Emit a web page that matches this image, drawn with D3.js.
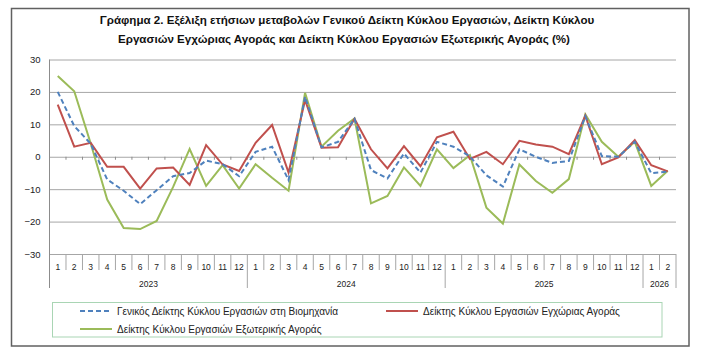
<!DOCTYPE html>
<html>
<head>
<meta charset="utf-8">
<script src="https://cdn.jsdelivr.net/npm/d3@7"></script>
<style>
  body { margin: 0; background: #fff; }
  text { font-family: "Liberation Sans", "DejaVu Sans", sans-serif; }
</style>
</head>
<body>
<div id="chart"></div>
<script>
// data (annual % change)
var months = ["1","2","3","4","5","6","7","8","9","10","11","12",
              "1","2","3","4","5","6","7","8","9","10","11","12",
              "1","2","3","4","5","6","7","8","9","10","11","12",
              "1","2"];
var years = ["2023", "2024", "2025", "2026"];
var yearCounts = [12, 12, 12, 2];
var yTicks = [-30, -20, -10, 0, 10, 20, 30];

var general = [20, 9.5, 4, -7, -10.5, -14.6, -10.3, -6, -5, -1.2, -2.3, -6,
               1.5, 3.1, -7.2, 18.5, 2.9, 4.6, 11.7, -4.1, -6.7, 1, -4.9, 4.6,
               3.1, 0.1, -5.7, -9.2, 2.3, 0, -1.9, -1.3, 12.5, 0.2, 0, 4.6,
               -5.1, -4.6];
var domestic = [16.1, 3.1, 4.3, -3.1, -3.1, -9.8, -3.6, -3.3, -8.7, 3.6, -2.4, -4.4,
                4.3, 9.8, -4.9, 17.5, 2.8, 2.9, 11.7, 2.3, -3.6, 3.3, -2.9, 6.0,
                7.7, -0.7, 1.5, -2.3, 4.9, 3.8, 3.1, 0.8, 12.7, -2.3, -0.2, 5.1,
                -2.6, -4.5];
var external = [24.9, 20.2, 4.1, -13.2, -22, -22.3, -19.8, -9.3, 2.4, -9, -2.6, -9.8,
                -2.3, -6.5, -10.5, 19.7, 3.1, 8.0, 11.8, -14.4, -12.1, -3.3, -9, 2.3,
                -3.5, 0.5, -15.7, -20.6, -2.4, -7.5, -11.1, -6.9, 13.1, 4.6, 0, 4.6,
                -9, -4.3];

var seriesNames = ["Γενικός Δείκτης Κύκλου Εργασιών στη Βιομηχανία",
                   "Δείκτης Κύκλου Εργασιών Εγχώριας Αγοράς",
                   "Δείκτης Κύκλου Εργασιών Εξωτερικής Αγοράς"];

var W = 715, H = 360;
// "top" is taken by window.top, so use other names
var plotL = 49.5, plotR = 676, plotT = 59.5, plotB = 254;

var svg = d3.select("#chart").append("svg")
  .attr("width", W)
  .attr("height", H);

// outer frame
svg.append("rect")
  .attr("x", 11.5).attr("y", 8.5)
  .attr("width", 677.5).attr("height", 337.5)
  .attr("fill", "none")
  .attr("stroke", "#606060")
  .attr("stroke-width", 1.5);

// title
var title = svg.append("text")
  .attr("text-anchor", "middle")
  .attr("font-weight", "bold")
  .attr("font-size", 11.6)
  .attr("fill", "#111");
title.append("tspan").attr("x", 347).attr("y", 24)
  .text("Γράφημα 2. Εξέλιξη ετήσιων μεταβολών Γενικού Δείκτη Κύκλου Εργασιών,  Δείκτη Κύκλου");
title.append("tspan").attr("x", 344).attr("y", 43)
  .text("Εργασιών Εγχώριας Αγοράς και Δείκτη Κύκλου Εργασιών Εξωτερικής Αγοράς (%)");

var idx = d3.range(months.length);
var x = d3.scaleBand().domain(idx).range([plotL, plotR]).padding(0);
var y = d3.scaleLinear().domain([-30, 30]).range([plotB, plotT]);

// gridlines + y labels
var yAxis = svg.append("g")
  .attr("transform", "translate(" + plotL + ",0)")
  .call(d3.axisLeft(y).tickValues(yTicks).tickSize(-(plotR - plotL)).tickPadding(9));
yAxis.select(".domain").remove();
yAxis.selectAll(".tick line").attr("stroke", "#a6a6a6");
yAxis.selectAll(".tick text")
  .attr("font-size", 9.5)
  .attr("fill", "#222")
  .style("font-family", "Liberation Sans, sans-serif");

// vertical axis line (runs down through the category table)
svg.append("line")
  .attr("x1", plotL).attr("x2", plotL)
  .attr("y1", plotT).attr("y2", 288)
  .attr("stroke", "#8c8c8c");

// zero line tick marks at month boundaries
var bounds = d3.range(months.length + 1).map(function(i) { return plotL + i * x.bandwidth(); });
svg.append("g").selectAll("line")
  .data(bounds.slice(1, -1))
  .enter().append("line")
  .attr("x1", function(d) { return d; }).attr("x2", function(d) { return d; })
  .attr("y1", y(0)).attr("y2", y(0) + 3)
  .attr("stroke", "#8c8c8c");

// category table below the plot
var yearStarts = [0];
yearCounts.forEach(function(c, i) { yearStarts.push(yearStarts[i] + c); });

svg.append("g").selectAll("line")
  .data(bounds.slice(1))
  .enter().append("line")
  .attr("x1", function(d) { return d; }).attr("x2", function(d) { return d; })
  .attr("y1", plotB)
  .attr("y2", function(d, i) { return yearStarts.indexOf(i + 1) >= 0 ? 288 : 270; })
  .attr("stroke", "#a6a6a6");

svg.append("g").selectAll("text")
  .data(months)
  .enter().append("text")
  .attr("x", function(d, i) { return x(i) + x.bandwidth() / 2; })
  .attr("y", 270)
  .attr("text-anchor", "middle")
  .attr("font-size", 8.5)
  .attr("fill", "#222")
  .text(function(d) { return d; });

svg.append("g").selectAll("text")
  .data(years)
  .enter().append("text")
  .attr("x", function(d, i) { return plotL + (yearStarts[i] + yearCounts[i] / 2) * x.bandwidth(); })
  .attr("y", 287)
  .attr("text-anchor", "middle")
  .attr("font-size", 8.5)
  .attr("fill", "#222")
  .text(function(d) { return d; });

// lines
var line = d3.line()
  .x(function(d, i) { return x(i) + x.bandwidth() / 2; })
  .y(function(d) { return y(d); });

var series = [
  { values: general, color: "#4f81bd", dash: "5,3" },
  { values: domestic, color: "#c0504d", dash: null },
  { values: external, color: "#9bbb59", dash: null }
];

svg.append("path").datum(external)
  .attr("d", line).attr("fill", "none")
  .attr("stroke", series[2].color).attr("stroke-width", 2);
svg.append("path").datum(domestic)
  .attr("d", line).attr("fill", "none")
  .attr("stroke", series[1].color).attr("stroke-width", 2);
svg.append("path").datum(general)
  .attr("d", line).attr("fill", "none")
  .attr("stroke", series[0].color).attr("stroke-width", 2)
  .attr("stroke-dasharray", series[0].dash);

// legend
svg.append("rect")
  .attr("x", 52.5).attr("y", 302.5)
  .attr("width", 609.5).attr("height", 34.5)
  .attr("fill", "none")
  .attr("stroke", "#a9d5b4");

var legendPos = [[80, 311], [386, 311], [80, 329]];
var legend = svg.append("g").selectAll("g")
  .data(series)
  .enter().append("g")
  .attr("transform", function(d, i) { return "translate(" + legendPos[i][0] + "," + legendPos[i][1] + ")"; });

legend.append("line")
  .attr("x1", 0).attr("x2", 32)
  .attr("stroke", function(d) { return d.color; })
  .attr("stroke-width", 2)
  .attr("stroke-dasharray", function(d) { return d.dash; });

legend.append("text")
  .attr("x", 37).attr("y", 3.5)
  .attr("font-size", 10)
  .attr("fill", "#222")
  .text(function(d, i) { return seriesNames[i]; });
</script>
</body>
</html>
